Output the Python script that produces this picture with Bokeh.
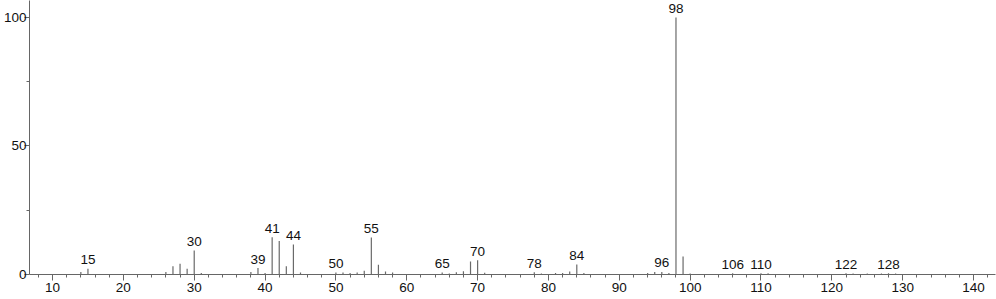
from bokeh.plotting import figure
from bokeh.models import Range1d, FixedTicker, ColumnDataSource
from bokeh.embed import file_html
from bokeh.resources import INLINE
from bokeh.core.properties import value

# m/z values and relative intensities
mz = [14, 15, 26, 27, 28, 29, 30, 31, 38, 39, 40, 41, 42, 43, 44, 45,
      50, 51, 52, 53, 54, 55, 56, 57, 58, 65, 66, 67, 68, 69, 70, 71,
      78, 79, 81, 82, 83, 84, 85, 94, 95, 96, 97, 98, 99, 100,
      106, 110, 111, 122, 123, 125, 127, 128, 129]
intensity = [1.0, 2.2, 1.0, 3.2, 4.2, 2.2, 9.3, 0.6, 1.0, 2.5, 0.6, 14.5, 13.0, 3.2, 11.7, 0.8,
             0.8, 0.8, 0.6, 0.8, 1.5, 14.4, 3.8, 1.2, 0.8, 0.8, 0.4, 0.9, 1.3, 5.1, 5.5, 0.7,
             0.9, 0.4, 0.6, 0.6, 1.2, 3.9, 0.6, 0.6, 1.0, 1.0, 0.6, 100.0, 7.0, 0.4,
             0.5, 0.5, 0.5, 0.5, 0.4, 0.4, 0.4, 0.5, 0.4]
label_mz = [15, 30, 39, 41, 44, 50, 55, 65, 70, 78, 84, 96, 98, 106, 110, 122, 128]
x_ticks = [10, 20, 30, 40, 50, 60, 70, 80, 90, 100, 110, 120, 130, 140]
y_ticks = [0, 50, 100]

FONT = "Liberation Sans"

lookup = dict(zip(mz, intensity))
label_y = [lookup[m] for m in label_mz]
label_txt = [str(m) for m in label_mz]

p = figure(width=996, height=299, output_backend="svg", toolbar_location=None,
           x_range=Range1d(6.75, 143.1), y_range=Range1d(0, 106.6),
           min_border_left=0, min_border_right=1, min_border_top=0, min_border_bottom=25)
p.outline_line_color = None
p.xgrid.visible = False
p.ygrid.visible = False
p.background_fill_color = "white"
p.border_fill_color = "white"

src = ColumnDataSource(dict(x=mz, y0=[0] * len(mz), y1=intensity))
p.segment(x0="x", y0="y0", x1="x", y1="y1", source=src, line_color="#6a6a6a", line_width=1.2)

lsrc = ColumnDataSource(dict(x=label_mz, y=label_y, t=label_txt))
p.text(x="x", y="y", text="t", source=lsrc, text_align="center", text_baseline="alphabetic",
       y_offset=-9, text_font=value(FONT), text_font_size="13.5px", text_color="#111111")

minor_x = [m for m in range(8, 144, 2) if m % 10 != 0]
p.xaxis.ticker = FixedTicker(ticks=x_ticks, minor_ticks=minor_x)
p.yaxis.ticker = FixedTicker(ticks=y_ticks, minor_ticks=[25, 75])

for ax in (p.xaxis[0], p.yaxis[0]):
    ax.axis_line_color = "#666666"
    ax.major_tick_line_color = "#666666"
    ax.minor_tick_line_color = "#666666"
    ax.major_tick_in = 0
    ax.minor_tick_in = 0
    ax.major_tick_out = 6
    ax.minor_tick_out = 3
    ax.major_label_text_font = FONT
    ax.major_label_text_font_size = "13.5px"
    ax.major_label_text_color = "#111111"
    ax.major_label_standoff = 2
p.yaxis[0].major_tick_out = 5
p.yaxis[0].minor_tick_out = 3
p.yaxis[0].major_label_standoff = -2

out = open("out.html", "w")
out.write(file_html(p, INLINE))
out.close()
